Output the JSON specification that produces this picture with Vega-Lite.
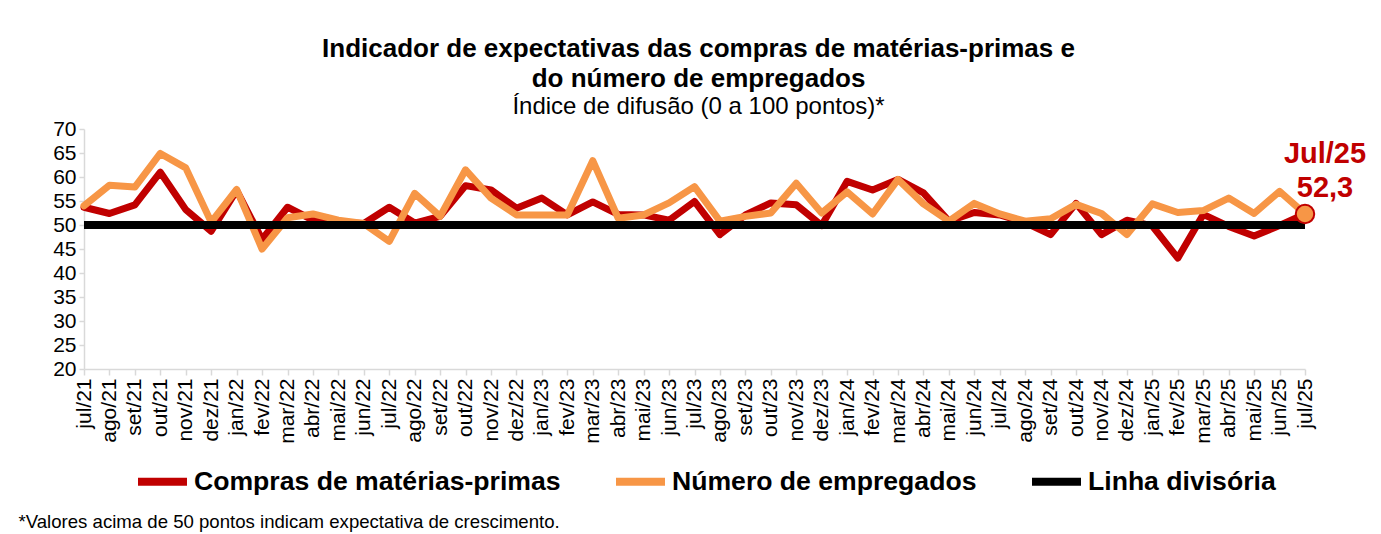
{
  "$schema": "https://vega.github.io/schema/vega-lite/v6.json",
  "width": 1221,
  "height": 240,
  "autosize": {"type": "none"},
  "padding": {"left": 84, "top": 129, "right": 76, "bottom": 165},
  "background": "white",
  "config": {
    "view": {"stroke": null},
    "font": "Liberation Sans",
    "axis": {"labelFont": "Liberation Sans", "titleFont": "Liberation Sans"}
  },
  "title": {
    "text": ["Indicador de expectativas das compras de matérias-primas e", "do número de empregados"],
    "subtitle": "Índice de difusão (0 a 100 pontos)*",
    "fontSize": 26,
    "lineHeight": 30,
    "fontWeight": "bold",
    "color": "#000000",
    "subtitleFontSize": 24,
    "subtitleColor": "#000000",
    "subtitleFont": "Liberation Sans",
    "subtitlePadding": 3,
    "anchor": "middle",
    "dx": 4,
    "offset": -1
  },
  "datasets": {
    "serie": [
      {"mes": "jul/21", "compras": 53.7, "empregados": 54.0, "linha": 50},
      {"mes": "ago/21", "compras": 52.4, "empregados": 58.3, "linha": 50},
      {"mes": "set/21", "compras": 54.2, "empregados": 57.9, "linha": 50},
      {"mes": "out/21", "compras": 61.0, "empregados": 64.9, "linha": 50},
      {"mes": "nov/21", "compras": 53.2, "empregados": 61.9, "linha": 50},
      {"mes": "dez/21", "compras": 48.7, "empregados": 50.6, "linha": 50},
      {"mes": "jan/22", "compras": 57.2, "empregados": 57.4, "linha": 50},
      {"mes": "fev/22", "compras": 47.0, "empregados": 45.0, "linha": 50},
      {"mes": "mar/22", "compras": 53.7, "empregados": 51.5, "linha": 50},
      {"mes": "abr/22", "compras": 51.0, "empregados": 52.3, "linha": 50},
      {"mes": "mai/22", "compras": 50.5, "empregados": 51.0, "linha": 50},
      {"mes": "jun/22", "compras": 50.3, "empregados": 50.3, "linha": 50},
      {"mes": "jul/22", "compras": 53.7, "empregados": 46.6, "linha": 50},
      {"mes": "ago/22", "compras": 50.4, "empregados": 56.6, "linha": 50},
      {"mes": "set/22", "compras": 51.8, "empregados": 51.8, "linha": 50},
      {"mes": "out/22", "compras": 58.2, "empregados": 61.5, "linha": 50},
      {"mes": "nov/22", "compras": 57.3, "empregados": 55.6, "linha": 50},
      {"mes": "dez/22", "compras": 53.5, "empregados": 52.1, "linha": 50},
      {"mes": "jan/23", "compras": 55.6, "empregados": 52.1, "linha": 50},
      {"mes": "fev/23", "compras": 52.1, "empregados": 52.1, "linha": 50},
      {"mes": "mar/23", "compras": 54.8, "empregados": 63.4, "linha": 50},
      {"mes": "abr/23", "compras": 52.2, "empregados": 51.4, "linha": 50},
      {"mes": "mai/23", "compras": 52.1, "empregados": 52.1, "linha": 50},
      {"mes": "jun/23", "compras": 51.0, "empregados": 54.6, "linha": 50},
      {"mes": "jul/23", "compras": 54.9, "empregados": 58.0, "linha": 50},
      {"mes": "ago/23", "compras": 48.0, "empregados": 50.8, "linha": 50},
      {"mes": "set/23", "compras": 52.1, "empregados": 51.8, "linha": 50},
      {"mes": "out/23", "compras": 54.6, "empregados": 52.5, "linha": 50},
      {"mes": "nov/23", "compras": 54.2, "empregados": 58.7, "linha": 50},
      {"mes": "dez/23", "compras": 49.9, "empregados": 52.5, "linha": 50},
      {"mes": "jan/24", "compras": 59.1, "empregados": 56.9, "linha": 50},
      {"mes": "fev/24", "compras": 57.3, "empregados": 52.3, "linha": 50},
      {"mes": "mar/24", "compras": 59.5, "empregados": 59.5, "linha": 50},
      {"mes": "abr/24", "compras": 56.7, "empregados": 54.4, "linha": 50},
      {"mes": "mai/24", "compras": 50.8, "empregados": 50.8, "linha": 50},
      {"mes": "jun/24", "compras": 52.6, "empregados": 54.5, "linha": 50},
      {"mes": "jul/24", "compras": 52.1, "empregados": 52.3, "linha": 50},
      {"mes": "ago/24", "compras": 50.5, "empregados": 50.8, "linha": 50},
      {"mes": "set/24", "compras": 48.0, "empregados": 51.3, "linha": 50},
      {"mes": "out/24", "compras": 54.5, "empregados": 54.3, "linha": 50},
      {"mes": "nov/24", "compras": 48.0, "empregados": 52.4, "linha": 50},
      {"mes": "dez/24", "compras": 51.0, "empregados": 48.0, "linha": 50},
      {"mes": "jan/25", "compras": 49.8, "empregados": 54.4, "linha": 50},
      {"mes": "fev/25", "compras": 43.1, "empregados": 52.6, "linha": 50},
      {"mes": "mar/25", "compras": 52.2, "empregados": 53.0, "linha": 50},
      {"mes": "abr/25", "compras": 49.7, "empregados": 55.6, "linha": 50},
      {"mes": "mai/25", "compras": 47.7, "empregados": 52.4, "linha": 50},
      {"mes": "jun/25", "compras": 49.9, "empregados": 57.0, "linha": 50},
      {"mes": "jul/25", "compras": 52.3, "empregados": 52.3, "linha": 50}
    ],
    "destaque": [
      {"mes": "jul/25", "valor": 52.3, "rotulo": "Jul/25\n52,3"}
    ]
  },
  "data": {"name": "serie"},
  "encoding": {
    "x": {
      "field": "mes",
      "type": "ordinal",
      "sort": null,
      "scale": {"type": "point", "padding": 0},
      "axis": {
        "title": "*Valores acima de 50 pontos indicam expectativa de crescimento.",
        "titleFontSize": 18.6,
        "titleFontWeight": "normal",
        "titleColor": "#000000",
        "titleAnchor": "start",
        "titleAlign": "left",
        "titleBaseline": "alphabetic",
        "titleX": -66,
        "titleY": 158,
        "labelAngle": -90,
        "labelFontSize": 21,
        "labelColor": "#000000",
        "labelPadding": 3,
        "labelOverlap": false,
        "domainColor": "#d9d9d9",
        "domainWidth": 1.5,
        "tickColor": "#d9d9d9",
        "tickWidth": 1.5,
        "tickSize": 6,
        "grid": false
      }
    },
    "y": {
      "field": "valor",
      "type": "quantitative",
      "scale": {"domain": [20, 70], "nice": false, "zero": false},
      "axis": {
        "title": null,
        "values": [20, 25, 30, 35, 40, 45, 50, 55, 60, 65, 70],
        "labelFontSize": 21,
        "labelColor": "#000000",
        "labelPadding": 3,
        "labelOverlap": false,
        "labelBound": false,
        "domainColor": "#d9d9d9",
        "domainWidth": 1.5,
        "tickColor": "#d9d9d9",
        "tickWidth": 1.5,
        "tickSize": 5,
        "grid": false
      }
    }
  },
  "layer": [
    {
      "transform": [{"fold": ["compras"], "as": ["serie", "valor"]}],
      "mark": {"type": "line", "strokeWidth": 7, "strokeJoin": "round", "strokeCap": "round"},
      "encoding": {
        "color": {
          "datum": "Compras de matérias-primas",
          "scale": {
            "domain": ["Compras de matérias-primas", "Número de empregados", "Linha divisória"],
            "range": ["#C00000", "#F79646", "#000000"]
          },
          "legend": {
            "title": null,
            "orient": "none",
            "legendX": 50,
            "legendY": 324,
            "direction": "horizontal",
            "symbolType": "stroke",
            "symbolStrokeWidth": 8,
            "symbolSize": 2400,
            "labelFontSize": 26.6,
            "labelFontWeight": "bold",
            "labelFont": "Liberation Sans",
            "labelColor": "#000000",
            "labelLimit": 0,
            "labelOffset": 3,
            "columnPadding": 39
          }
        }
      }
    },
    {
      "transform": [{"fold": ["empregados"], "as": ["serie", "valor"]}],
      "mark": {"type": "line", "strokeWidth": 7, "strokeJoin": "round", "strokeCap": "round"},
      "encoding": {
        "color": {"datum": "Número de empregados"}
      }
    },
    {
      "transform": [{"fold": ["linha"], "as": ["serie", "valor"]}],
      "mark": {"type": "line", "strokeWidth": 8, "strokeCap": "butt"},
      "encoding": {
        "color": {"datum": "Linha divisória"}
      }
    },
    {
      "data": {"name": "destaque"},
      "mark": {"type": "point", "shape": "circle", "filled": true, "fill": "#F79646", "stroke": "#C00000", "strokeWidth": 2, "size": 340, "opacity": 1},
      "encoding": {}
    },
    {
      "data": {"name": "destaque"},
      "mark": {"type": "text", "font": "Liberation Sans", "fontSize": 29, "fontWeight": "bold", "color": "#C00000", "align": "center", "baseline": "middle", "lineBreak": "\n", "lineHeight": 34, "dx": 20, "dy": -60},
      "encoding": {
        "text": {"field": "rotulo"}
      }
    }
  ]
}
